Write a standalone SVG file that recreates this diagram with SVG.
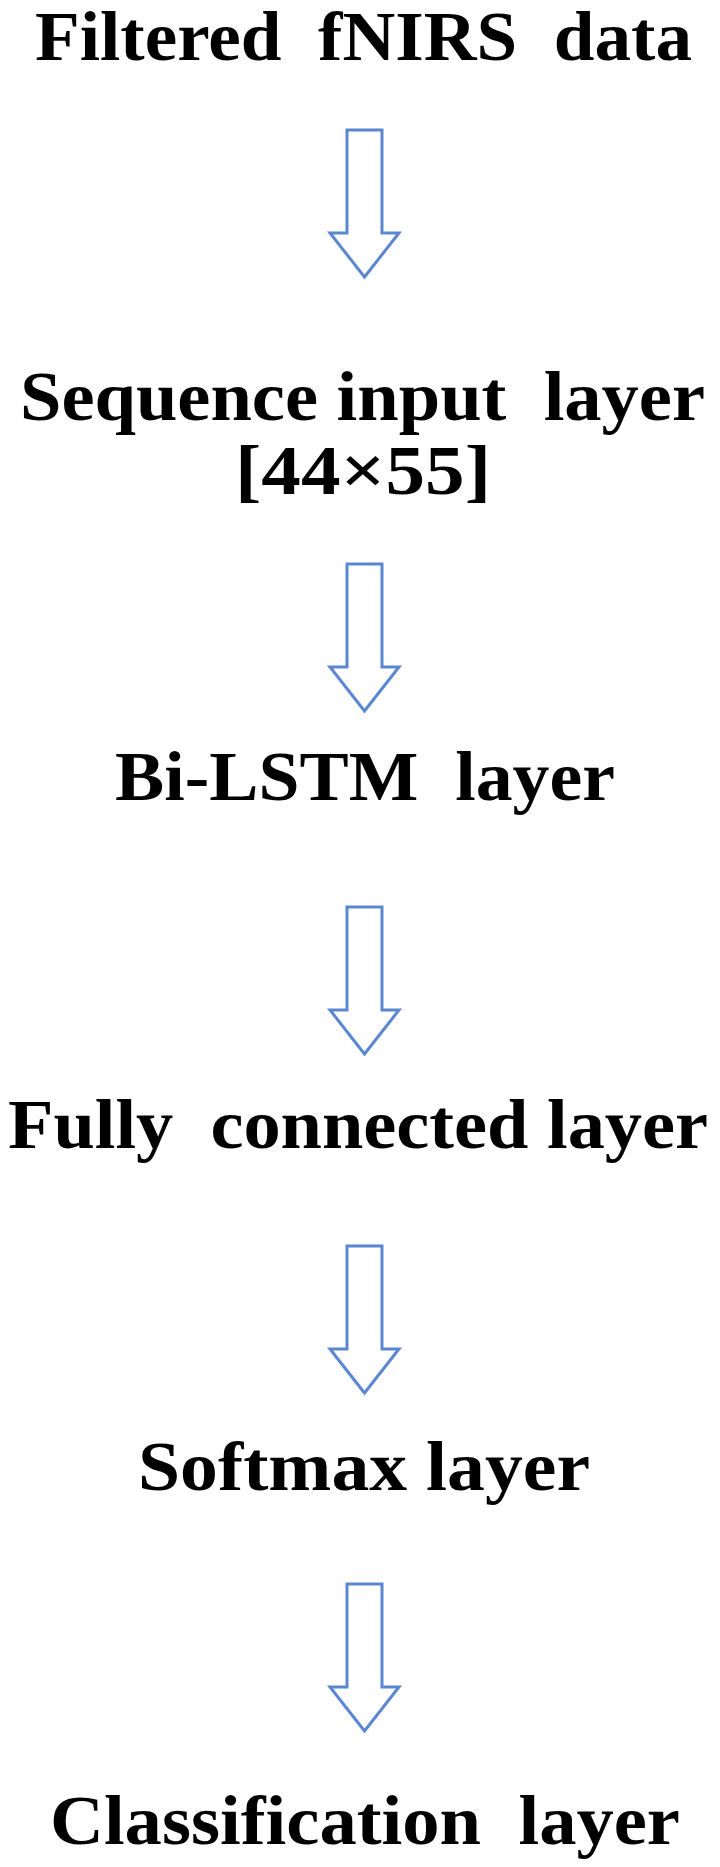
<svg xmlns="http://www.w3.org/2000/svg" width="720" height="1867" viewBox="0 0 720 1867">
<style>
text{font-family:"Liberation Serif","Times New Roman",serif;font-weight:bold;font-size:70px;fill:#000;white-space:pre;}
.arr{fill:#fff;stroke:#5b87d2;stroke-width:3;stroke-linejoin:miter;}
</style>
<rect width="720" height="1867" fill="#fff"/>
<defs>
<path id="a" d="M347,0 H382 V103 H399 L364.5,147 L330,103 H347 Z"/>
</defs>
<g id="n1"><text x="35" y="60" textLength="657" lengthAdjust="spacingAndGlyphs">Filtered  fNIRS  data</text></g>
<g id="n2"><text x="20" y="420" textLength="685" lengthAdjust="spacingAndGlyphs">Sequence input  layer</text>
<text x="235" y="494" textLength="256" lengthAdjust="spacingAndGlyphs">[44×55]</text></g>
<g id="n3"><text x="115" y="800" textLength="500" lengthAdjust="spacingAndGlyphs">Bi-LSTM  layer</text></g>
<g id="n4"><text x="8" y="1148" textLength="700" lengthAdjust="spacingAndGlyphs">Fully  connected layer</text></g>
<g id="n5"><text x="138" y="1490" textLength="452" lengthAdjust="spacingAndGlyphs">Softmax layer</text></g>
<g id="n6"><text x="50" y="1844" textLength="630" lengthAdjust="spacingAndGlyphs">Classification  layer</text></g>
<g id="connectors">
<use href="#a" class="arr" y="130"/>
<use href="#a" class="arr" y="564"/>
<use href="#a" class="arr" y="907"/>
<use href="#a" class="arr" y="1246"/>
<use href="#a" class="arr" y="1584"/>
</g>
</svg>
